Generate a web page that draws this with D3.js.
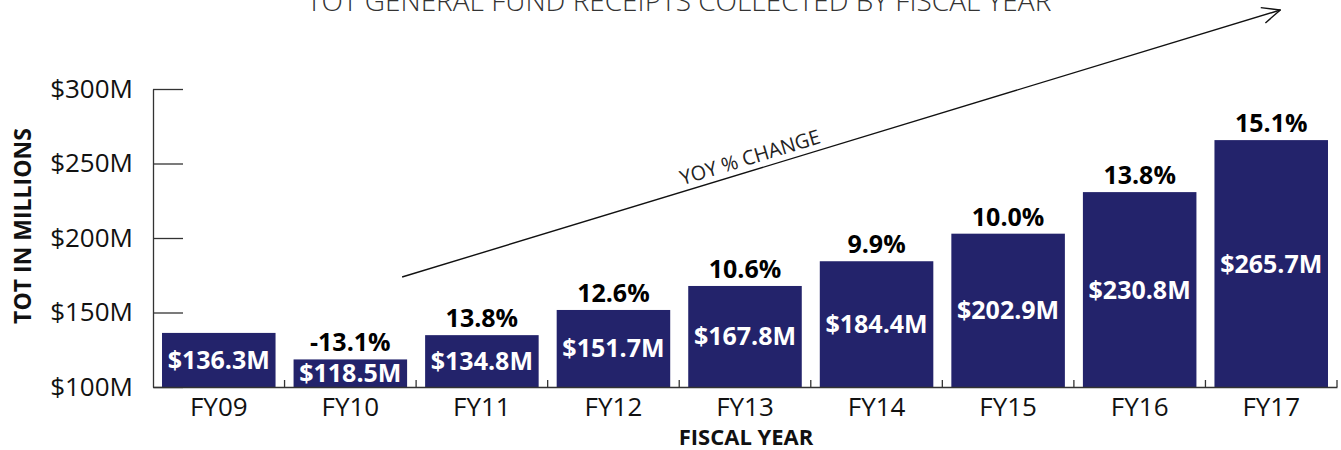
<!DOCTYPE html>
<html>
<head>
<meta charset="utf-8">
<script src="https://cdn.jsdelivr.net/npm/d3@7"></script>
<style>
  body { margin: 0; background: #fff; }
  svg { display: block; font-family: "Open Sans", sans-serif; }
</style>
</head>
<body>
<div id="chart"></div>
<script>
// Data
const years = ["FY09", "FY10", "FY11", "FY12", "FY13", "FY14", "FY15", "FY16", "FY17"];
const receipts = [136.3, 118.5, 134.8, 151.7, 167.8, 184.4, 202.9, 230.8, 265.7];
const yoyChange = [null, -13.1, 13.8, 12.6, 10.6, 9.9, 10.0, 13.8, 15.1];
const yTicks = [100, 150, 200, 250, 300];

const width = 1341, height = 450;
const margin = {top: 89, right: 4, bottom: 63, left: 153};

const svg = d3.select("#chart")
  .append("svg")
    .attr("width", width)
    .attr("height", height);

const x = d3.scaleBand()
  .domain(years)
  .range([margin.left, width - margin.right])
  .paddingInner(0.137)
  .paddingOuter(0.0685);

const y = d3.scaleLinear()
  .domain([100, 300])
  .range([height - margin.bottom, margin.top]);

const barColor = "#23236b";

// Title (cut off at the top, like the original)
svg.append("text")
  .attr("x", 679)
  .attr("y", 11)
  .attr("text-anchor", "middle")
  .style("font-size", "28px")
  .style("font-weight", 300)
  .style("fill", "#333")
  .text("TOT GENERAL FUND RECEIPTS COLLECTED BY FISCAL YEAR");

// Y axis
const yAxis = svg.append("g")
  .attr("transform", `translate(${margin.left},0)`)
  .call(d3.axisLeft(y)
    .tickValues(yTicks)
    .tickSizeInner(-30)
    .tickSizeOuter(0)
    .tickPadding(20)
    .tickFormat(d => `$${d}M`));
yAxis.selectAll("text")
  .style("font-size", "26px")
  .style("font-family", "Open Sans, sans-serif")
  .style("fill", "#111");
yAxis.selectAll("line, path").attr("stroke", "#333").attr("stroke-width", 1.3);

// Bars
svg.selectAll(".bar")
  .data(years)
  .enter()
  .append("rect")
    .attr("class", "bar")
    .attr("x", d => x(d))
    .attr("y", (d, i) => y(receipts[i]))
    .attr("width", x.bandwidth())
    .attr("height", (d, i) => y(100) - y(receipts[i]))
    .attr("fill", barColor);

// X axis
const xAxis = svg.append("g")
  .attr("transform", `translate(0,${y(100)})`)
  .call(d3.axisBottom(x).tickSize(0).tickPadding(11));
xAxis.select(".domain").attr("stroke", "#333").attr("stroke-width", 1.3);
xAxis.selectAll("text")
  .style("font-size", "26px")
  .style("font-family", "Open Sans, sans-serif")
  .style("fill", "#111");

// category separator ticks
const half = x.step() * x.paddingInner() / 2;
xAxis.selectAll(".sep")
  .data(years)
  .enter()
  .append("line")
    .attr("class", "sep")
    .attr("x1", d => x(d) + x.bandwidth() + half)
    .attr("x2", d => x(d) + x.bandwidth() + half)
    .attr("y1", 0)
    .attr("y2", -7)
    .attr("stroke", "#333")
    .attr("stroke-width", 1.3);

// Value labels inside bars
svg.selectAll(".val")
  .data(years)
  .enter()
  .append("text")
    .attr("class", "val")
    .attr("x", d => x(d) + x.bandwidth() / 2)
    .attr("y", (d, i) => (y(receipts[i]) + y(100)) / 2)
    .attr("dy", "0.36em")
    .attr("text-anchor", "middle")
    .style("font-size", "25px")
    .style("font-weight", 700)
    .style("fill", "#fff")
    .text((d, i) => `$${receipts[i].toFixed(1)}M`);

// YoY % labels above bars
svg.selectAll(".pct")
  .data(years.filter((d, i) => yoyChange[i] !== null))
  .enter()
  .append("text")
    .attr("class", "pct")
    .attr("x", d => x(d) + x.bandwidth() / 2)
    .attr("y", d => y(receipts[years.indexOf(d)]) - 8)
    .attr("text-anchor", "middle")
    .style("font-size", "25px")
    .style("font-weight", 700)
    .style("fill", "#000")
    .text(d => `${yoyChange[years.indexOf(d)].toFixed(1)}%`);

// Trend arrow annotation
const ax1 = x("FY10") + x.bandwidth() - 5, ay1 = y(173.8);
const ax2 = x("FY17") + x.bandwidth() * 0.58, ay2 = y(353);
svg.append("defs").append("marker")
  .attr("id", "arrow")
  .attr("viewBox", "0 0 20 20")
  .attr("refX", 19)
  .attr("refY", 10)
  .attr("markerWidth", 20)
  .attr("markerHeight", 20)
  .attr("markerUnits", "userSpaceOnUse")
  .attr("orient", "auto")
  .append("path")
    .attr("d", "M1,2 L19,10 L1,18")
    .attr("fill", "none")
    .attr("stroke", "#111")
    .attr("stroke-width", 1.4);

svg.append("line")
  .attr("x1", ax1).attr("y1", ay1)
  .attr("x2", ax2).attr("y2", ay2)
  .attr("stroke", "#111")
  .attr("stroke-width", 1.4)
  .attr("marker-end", "url(#arrow)");

const angle = Math.atan2(ay2 - ay1, ax2 - ax1) * 180 / Math.PI;
svg.append("text")
  .attr("transform", `translate(752,164) rotate(${angle})`)
  .attr("text-anchor", "middle")
  .style("font-size", "20px")
  .style("fill", "#222")
  .text("YOY % CHANGE");

// Axis titles
svg.append("text")
  .attr("transform", `translate(31,${226}) rotate(-90)`)
  .attr("text-anchor", "middle")
  .style("font-size", "23px")
  .style("font-weight", 700)
  .style("fill", "#111")
  .text("TOT IN MILLIONS");

svg.append("text")
  .attr("x", 746)
  .attr("y", 445)
  .attr("text-anchor", "middle")
  .style("font-size", "22px")
  .style("font-weight", 700)
  .style("fill", "#111")
  .text("FISCAL YEAR");
</script>
</body>
</html>
